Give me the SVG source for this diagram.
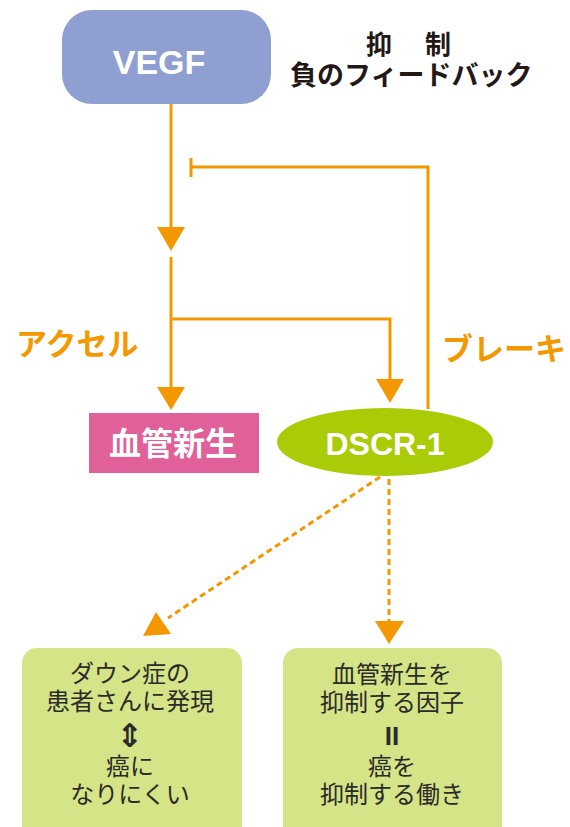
<svg xmlns="http://www.w3.org/2000/svg" width="570" height="827" viewBox="0 0 570 827">
<defs>
<style>
.ln{stroke:#f39800;stroke-width:3;fill:none}
.dash{stroke:#f39800;stroke-width:3;fill:none;stroke-dasharray:6 4}
.ah{fill:#f39800}
.w{fill:#ffffff;font-family:"Liberation Sans","Noto Sans CJK JP",sans-serif;font-weight:bold;text-anchor:middle}
.lbl{fill:#f39800;font-family:"Noto Sans CJK JP",sans-serif;font-weight:bold}
.blk{fill:#231815;font-family:"Noto Sans CJK JP",sans-serif;font-weight:bold}
.bx{fill:#d5e486}
.bt{fill:#2b2b2b;font-family:"Noto Sans CJK JP",sans-serif;font-size:24px;text-anchor:middle}
.sym{fill:#2b2b2b;font-family:"DejaVu Sans",sans-serif;font-weight:bold;text-anchor:middle}
</style>
</defs>
<rect width="570" height="827" fill="#ffffff"/>
<g id="connectors">
<line class="ln" x1="171" y1="104" x2="171" y2="228"/>
<polygon class="ah" points="157,227 185,227 171,251"/>
<line class="ln" x1="171" y1="257" x2="171" y2="388"/>
<polygon class="ah" points="157,387 185,387 171,410"/>
<polyline class="ln" points="171,319 390,319 390,380"/>
<polygon class="ah" points="376,379 404,379 390,403"/>
<polyline class="ln" points="428,409 428,167 191,167"/>
<line class="ln" x1="191" y1="158" x2="191" y2="177"/>
<line class="dash" x1="380" y1="477" x2="168" y2="618"/>
<polygon class="ah" points="156,612 143,636 171,634"/>
<line class="dash" x1="389" y1="479" x2="389" y2="621"/>
<polygon class="ah" points="375,621 404,621 389,644"/>
</g>
<g id="vegf">
<rect x="62" y="10" width="209" height="94" rx="30" fill="#8f9fd1"/>
<text class="w" x="159" y="74" font-size="34">VEGF</text>
</g>
<g id="feedback-label">
<text class="blk" x="366" y="54" font-size="26">抑</text>
<text class="blk" x="425" y="54" font-size="26">制</text>
<text class="blk" x="290" y="85" font-size="27">負のフィードバック</text>
</g>
<g id="angiogenesis">
<rect x="89" y="413" width="170" height="60" fill="#e0609a"/>
<text class="w" x="173" y="455" font-size="32" style="font-family:'Noto Sans CJK JP',sans-serif">血管新生</text>
</g>
<g id="dscr1">
<ellipse cx="385" cy="442" rx="108" ry="34" fill="#aacc06"/>
<text class="w" x="385" y="455" font-size="32">DSCR-1</text>
</g>
<g id="accel-label">
<text class="lbl" x="16" y="355" font-size="31">アクセル</text>
</g>
<g id="brake-label">
<text class="lbl" x="442" y="360" font-size="31">ブレーキ</text>
</g>
<g id="box-left">
<rect class="bx" x="22" y="648" width="220" height="200" rx="15"/>
<text class="bt" x="130" y="682">ダウン症の</text>
<text class="bt" x="130" y="710">患者さんに発現</text>
<text class="sym" x="130" y="747" font-size="32">⇕</text>
<text class="bt" x="130" y="775">癌に</text>
<text class="bt" x="130" y="803">なりにくい</text>
</g>
<g id="box-right">
<rect class="bx" x="283" y="648" width="219" height="200" rx="15"/>
<text class="bt" x="392" y="683">血管新生を</text>
<text class="bt" x="392" y="711">抑制する因子</text>
<text class="sym" x="392" y="745" font-size="26" style="font-family:'Liberation Sans',sans-serif">II</text>
<text class="bt" x="392" y="775">癌を</text>
<text class="bt" x="392" y="803">抑制する働き</text>
</g>
</svg>
